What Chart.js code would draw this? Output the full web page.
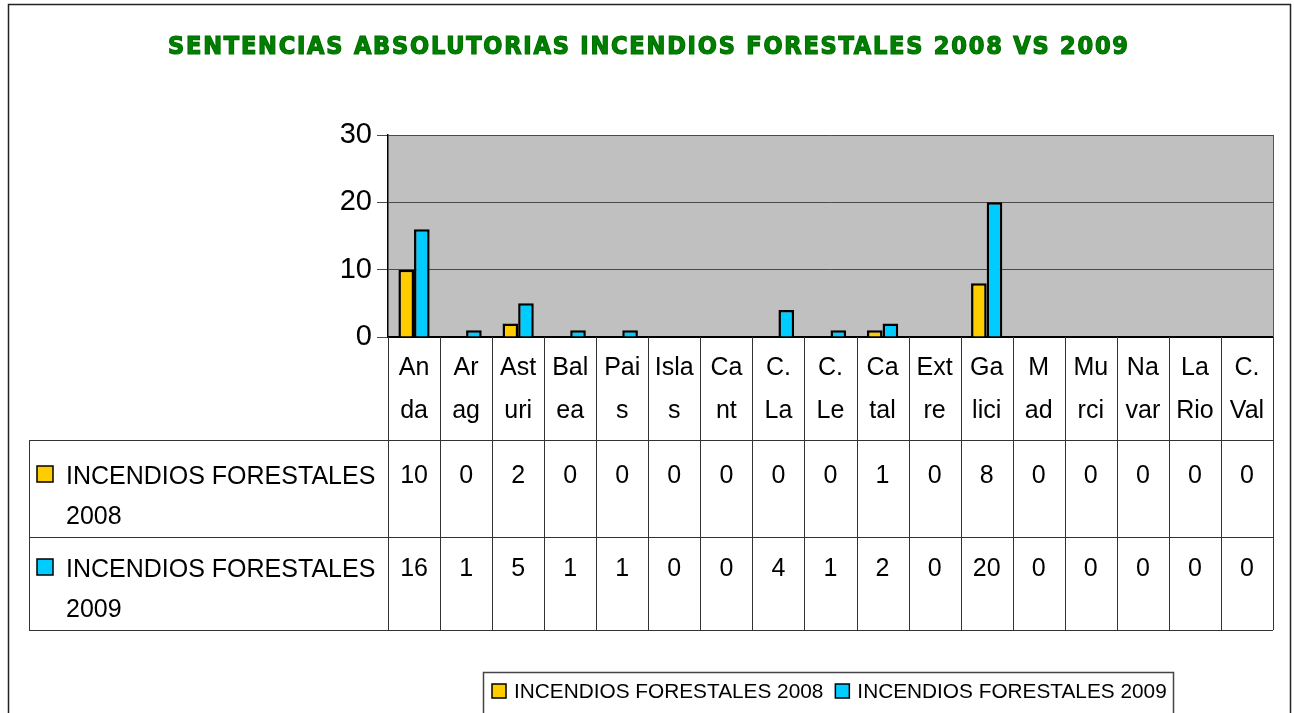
<!DOCTYPE html>
<html>
<head>
<meta charset="utf-8">
<script src="https://cdn.jsdelivr.net/npm/chart.js@4.4.0/dist/chart.umd.min.js"></script>
<style>
  html, body { margin: 0; padding: 0; background: #fff; }
  canvas { display: block; }
</style>
</head>
<body>
<canvas id="grafico" width="1294" height="713"></canvas>
<script>
// Datos del gráfico
const titulo = "SENTENCIAS ABSOLUTORIAS INCENDIOS FORESTALES 2008 VS 2009";
const comunidades = [
    ["An", "da"], ["Ar", "ag"], ["Ast", "uri"], ["Bal", "ea"], ["Pai", "s"], ["Isla", "s"],
    ["Ca", "nt"], ["C.", "La"], ["C.", "Le"], ["Ca", "tal"], ["Ext", "re"], ["Ga", "lici"],
    ["M", "ad"], ["Mu", "rci"], ["Na", "var"], ["La", "Rio"], ["C.", "Val"]
];
const serie2008 = [10, 0, 2, 0, 0, 0, 0, 0, 0, 1, 0, 8, 0, 0, 0, 0, 0];
const serie2009 = [16, 1, 5, 1, 1, 0, 0, 4, 1, 2, 0, 20, 0, 0, 0, 0, 0];
const nombresSeries = ["INCENDIOS FORESTALES 2008", "INCENDIOS FORESTALES 2009"];
const ticksY = [0, 10, 20, 30];

const AMARILLO = "#FFCC00";
const CELESTE = "#00CCFF";
const FUENTE = "'Liberation Sans', Arial, sans-serif";

// ------------------ Fondo gris, título, tabla de datos y leyenda ------------------
const extras = {
    id: "extras",
    beforeDraw(chart) {
        const { ctx, chartArea: a } = chart;
        ctx.save();
        ctx.fillStyle = "#C0C0C0";
        ctx.fillRect(a.left, a.top, a.right - a.left, a.bottom - a.top);
        ctx.restore();
    },
    afterDraw(chart) {
        const { ctx, chartArea: a } = chart;
        const n = comunidades.length;
        const ancho = (a.right - a.left) / n;
        const filas = [440, 537, 630];
        const izq = 29;

        ctx.save();

        // marco exterior
        ctx.strokeStyle = "#222";
        ctx.lineWidth = 1.5;
        ctx.strokeRect(8.5, 4.5, 1282, 760);

        // título, ajustado a 960 px de ancho
        ctx.fillStyle = "#008000";
        ctx.strokeStyle = "#007000";
        ctx.lineWidth = 1.2;
        ctx.font = "bold 25px 'DejaVu Sans Condensed', 'DejaVu Sans', sans-serif";
        ctx.textBaseline = "middle";
        ctx.textAlign = "left";
        ctx.letterSpacing = "0px";
        const w0 = ctx.measureText(titulo).width;
        const esp = (960 - w0) / (titulo.length - 1);
        ctx.letterSpacing = esp + "px";
        ctx.fillText(titulo, 168, 47);
        ctx.strokeText(titulo, 168, 47);
        ctx.letterSpacing = "0px";

        // borde derecho del área de trazado
        ctx.strokeStyle = "#555";
        ctx.lineWidth = 1;
        ctx.beginPath();
        ctx.moveTo(a.right + 0.5, a.top);
        ctx.lineTo(a.right + 0.5, a.bottom);
        ctx.stroke();

        // líneas de la tabla
        ctx.strokeStyle = "#333";
        ctx.lineWidth = 1;
        ctx.beginPath();
        for (let i = 0; i <= n; i++) {
            const x = Math.round(a.left + i * ancho) + 0.5;
            ctx.moveTo(x, a.bottom);
            ctx.lineTo(x, filas[2]);
        }
        filas.forEach(y => {
            ctx.moveTo(izq, y + 0.5);
            ctx.lineTo(a.right, y + 0.5);
        });
        ctx.moveTo(izq + 0.5, filas[0]);
        ctx.lineTo(izq + 0.5, filas[2]);
        ctx.stroke();

        // valores de la tabla
        const xs = chart.scales.x;
        const series = [serie2008, serie2009];
        const colores = [AMARILLO, CELESTE];
        const centros = [474, 567];
        ctx.fillStyle = "#000";
        ctx.font = "25px " + FUENTE;
        ctx.textAlign = "center";
        series.forEach((s, k) => {
            s.forEach((v, i) => ctx.fillText(String(v), xs.getPixelForValue(i), centros[k] + 2));
        });

        // etiquetas de las filas
        ctx.textAlign = "left";
        nombresSeries.forEach((nombre, k) => {
            const corte = nombre.lastIndexOf(" ");
            const cy = centros[k];
            ctx.fillStyle = colores[k];
            ctx.fillRect(37, cy - 8, 16, 16);
            ctx.strokeStyle = "#000";
            ctx.lineWidth = 1.5;
            ctx.strokeRect(37, cy - 8, 16, 16);
            ctx.fillStyle = "#000";
            ctx.fillText(nombre.slice(0, corte), 66, cy + 3);
            ctx.fillText(nombre.slice(corte + 1), 66, cy + 43);
        });

        // leyenda inferior
        ctx.strokeStyle = "#444";
        ctx.lineWidth = 1.5;
        ctx.strokeRect(483.5, 672.5, 690, 60);
        ctx.font = "20.8px " + FUENTE;
        let x = 492;
        nombresSeries.forEach((nombre, k) => {
            ctx.fillStyle = colores[k];
            ctx.fillRect(x, 684, 14, 14);
            ctx.strokeStyle = "#000";
            ctx.lineWidth = 1.5;
            ctx.strokeRect(x, 684, 14, 14);
            ctx.fillStyle = "#000";
            ctx.fillText(nombre, x + 22, 692);
            x += 22 + ctx.measureText(nombre).width + 12;
        });

        ctx.restore();
    }
};

new Chart(document.getElementById("grafico"), {
    type: "bar",
    data: {
        labels: comunidades,
        datasets: [
            {
                label: nombresSeries[0],
                data: serie2008,
                backgroundColor: AMARILLO,
                borderColor: "#000",
                borderWidth: 2.5,
                borderSkipped: "start"
            },
            {
                label: nombresSeries[1],
                data: serie2009,
                backgroundColor: CELESTE,
                borderColor: "#000",
                borderWidth: 2.5,
                borderSkipped: "start"
            }
        ]
    },
    options: {
        responsive: false,
        animation: false,
        layout: { padding: { top: 135, right: 21, left: 0, bottom: 0 } },
        datasets: { bar: { categoryPercentage: 0.6, barPercentage: 1 } },
        scales: {
            x: {
                afterFit: s => { s.height = 376; },
                grid: { display: false, drawTicks: false },
                border: { display: true, color: "#000", width: 2 },
                ticks: {
                    color: "#000",
                    padding: 10,
                    maxRotation: 0,
                    autoSkip: false,
                    font: { family: FUENTE, size: 25, lineHeight: 1.72 }
                }
            },
            y: {
                min: ticksY[0],
                max: ticksY[ticksY.length - 1],
                afterFit: s => { s.width = 388; },
                afterBuildTicks: s => { s.ticks = ticksY.map(v => ({ value: v })); },
                grid: { color: "#4a4a4a", lineWidth: 1, tickLength: 11 },
                border: { display: true, color: "#000", width: 1.5 },
                ticks: {
                    color: "#000",
                    padding: 5,
                    font: { family: FUENTE, size: 29 }
                }
            }
        },
        plugins: {
            legend: { display: false },
            title: { display: false },
            tooltip: { enabled: false }
        }
    },
    plugins: [extras]
});
</script>
</body>
</html>
